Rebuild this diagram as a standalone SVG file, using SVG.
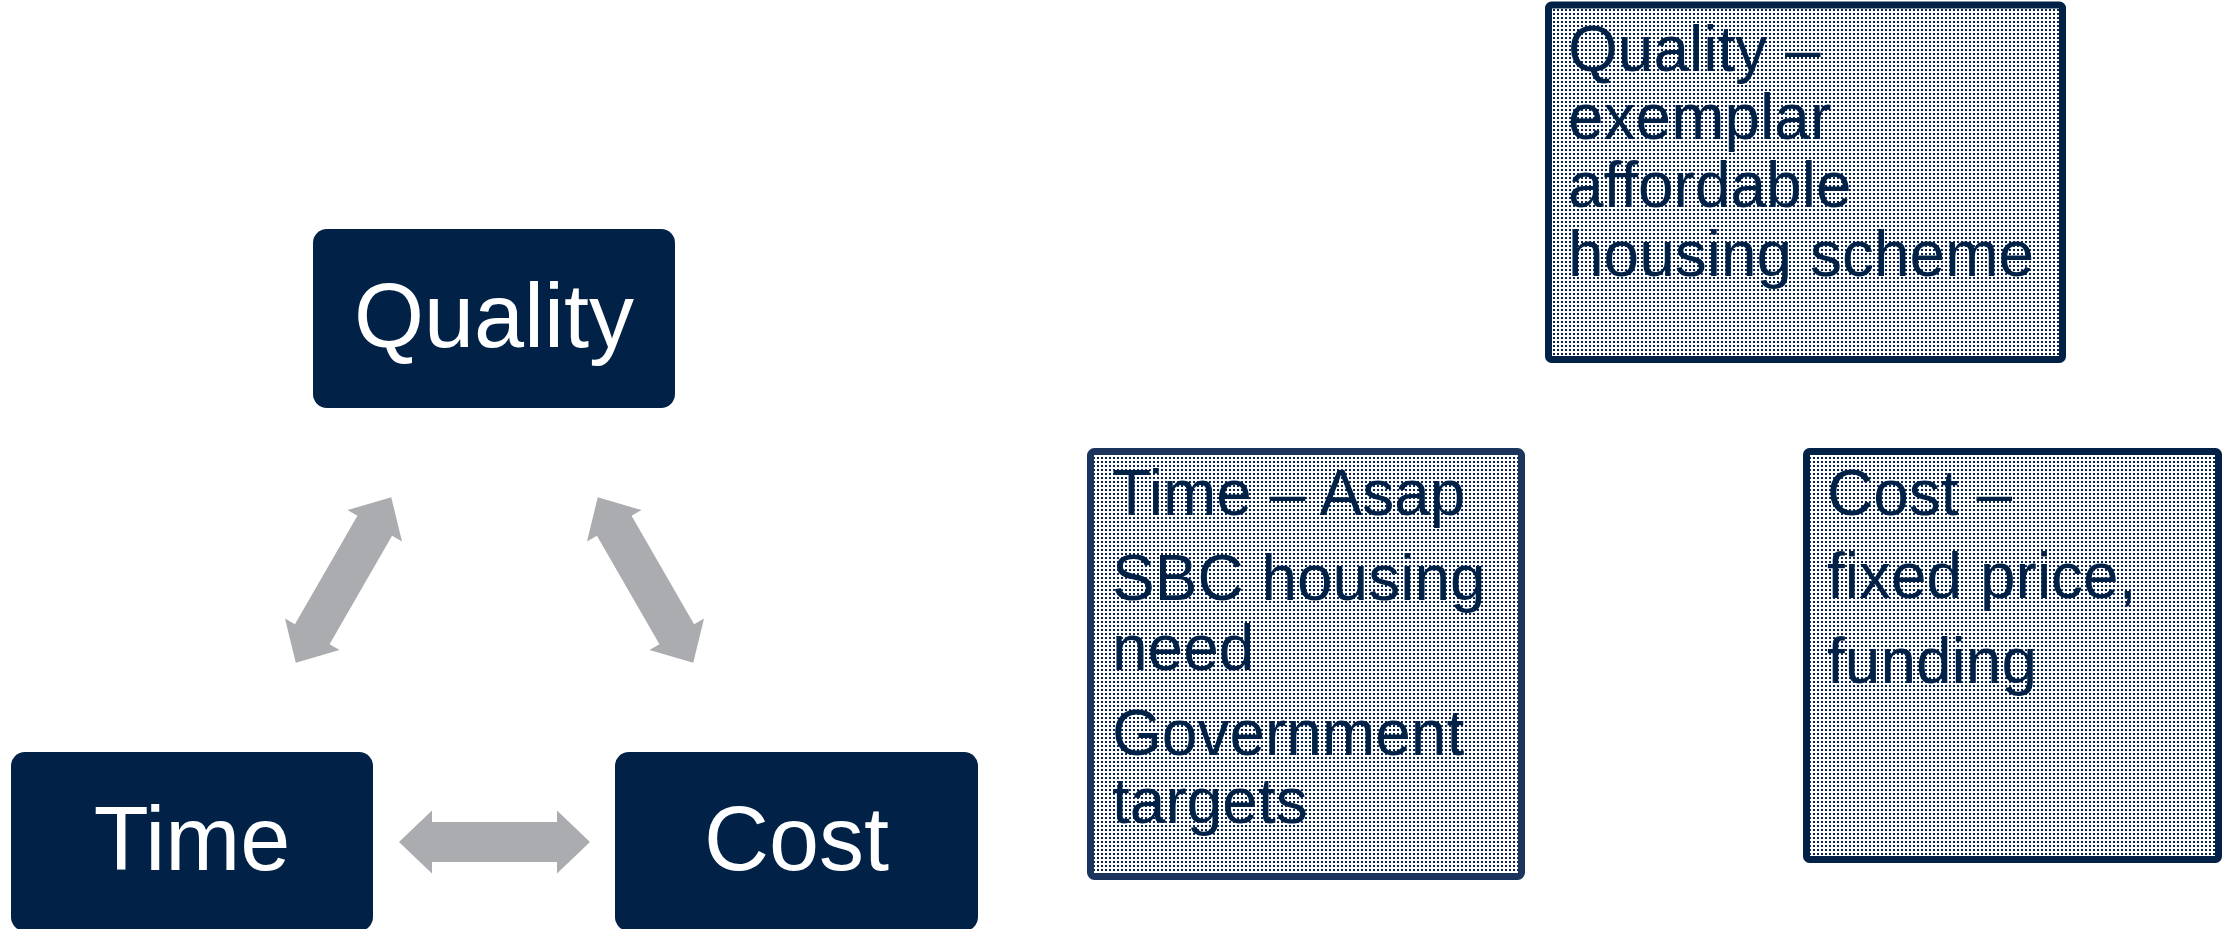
<svg xmlns="http://www.w3.org/2000/svg" width="2227" height="929" viewBox="0 0 2227 929">
  <defs>
    <!-- fine dot fill used by the three note boxes -->
    <pattern id="dots" x="0" y="0" width="4" height="4" patternUnits="userSpaceOnUse">
      <rect width="4" height="4" fill="#ffffff"/>
      <rect x="1" y="1" width="2" height="2" fill="#0a2548"/>
    </pattern>
    <!-- double-headed block arrow, centred on the origin -->
    <path id="dbl-arrow" d="M-95.5,0 L-62.5,-31.5 L-62.5,-20 L62.5,-20 L62.5,-31.5 L95.5,0 L62.5,31.5 L62.5,20 L-62.5,20 L-62.5,31.5 Z"/>
  </defs>
  <style>
    .node rect { fill: #012147; }
    .node text { fill: #ffffff; font-family: "Liberation Sans", Arial, sans-serif; font-size: 90px; text-anchor: middle; }
    .note rect { fill: url(#dots); stroke: #012147; stroke-width: 7; }
    .note text { fill: #012147; font-family: "Liberation Sans", Arial, sans-serif; font-size: 64px; }
    .connectors use { fill: #abacb0; }
  </style>

  <rect width="2227" height="929" fill="#ffffff"/>

  <!-- triangle of constraints -->
  <g id="node-quality" class="node">
    <rect x="313" y="229" width="362" height="179" rx="14"/>
    <text x="494" y="347">Quality</text>
  </g>
  <g id="node-time" class="node">
    <rect x="11" y="752" width="362" height="179" rx="14"/>
    <text x="192" y="870">Time</text>
  </g>
  <g id="node-cost" class="node">
    <rect x="615" y="752" width="363" height="179" rx="14"/>
    <text x="796.5" y="870">Cost</text>
  </g>

  <g id="connectors" class="connectors">
    <use href="#dbl-arrow" transform="translate(343.5,580) rotate(-60)"/>
    <use href="#dbl-arrow" transform="translate(645.5,580) rotate(60)"/>
    <use href="#dbl-arrow" transform="translate(494.5,842)"/>
  </g>

  <!-- explanatory notes -->
  <g id="note-quality" class="note">
    <rect x="1548.5" y="5" width="514" height="354.5" rx="3"/>
    <text x="1568" y="71">Quality –</text>
    <text x="1568" y="139">exemplar</text>
    <text x="1568" y="207">affordable</text>
    <text x="1568" y="276">housing scheme</text>
  </g>
  <g id="note-time" class="note">
    <rect x="1090.5" y="451.5" width="431" height="425" rx="4" style="stroke:#1b355c"/>
    <text x="1112" y="515">Time – Asap</text>
    <text x="1112" y="600">SBC housing</text>
    <text x="1112" y="670">need</text>
    <text x="1112" y="755">Government</text>
    <text x="1112" y="823">targets</text>
  </g>
  <g id="note-cost" class="note">
    <rect x="1806.5" y="451.5" width="412" height="408" rx="3"/>
    <text x="1827" y="515">Cost –</text>
    <text x="1827" y="598">fixed price,</text>
    <text x="1827" y="683">funding</text>
  </g>
</svg>
